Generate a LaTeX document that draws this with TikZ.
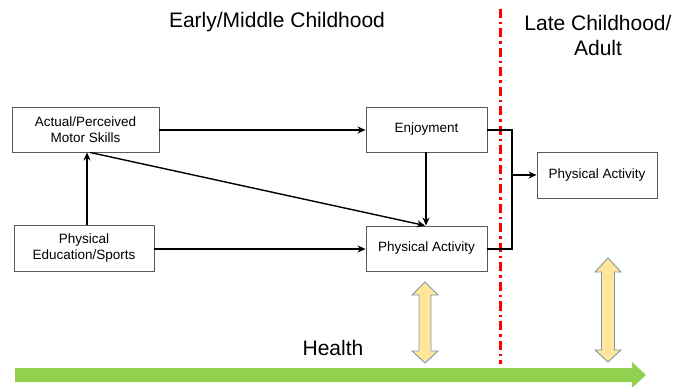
\documentclass[tikz,border=0pt]{standalone}
\usepackage{fontspec}
\setmainfont{Liberation Sans}
\usetikzlibrary{arrows.meta}
\definecolor{boxline}{HTML}{595959}
\definecolor{yfill}{HTML}{FFE699}
\definecolor{yline}{HTML}{8497B0}
\definecolor{gfill}{HTML}{92D050}
\tikzset{
  box/.style={draw=boxline, line width=0.9pt, fill=white, inner sep=0pt, align=center,
    font=\fontsize{13.5}{15.5}\selectfont},
  conn/.style={line width=1.7pt, -{Stealth[length=8pt,width=7pt]}},
  plain/.style={line width=1.7pt},
  title/.style={font=\fontsize{21}{25}\selectfont, align=center},
  dbl/.style={fill=yfill, draw=yline, line width=0.9pt, line join=miter}
}
\begin{document}
\begin{tikzpicture}[x=1pt,y=-1pt]
\useasboundingbox (0,0) rectangle (677,387);
% boxes
\node[box, minimum width=147pt, minimum height=45pt] (ms) at (85.5,129.5) {Actual/Perceived\\Motor Skills};
\node[box, minimum width=140pt, minimum height=46pt] (pe) at (84,248) {Physical\\Education/Sports};
\node[box, minimum width=121pt, minimum height=45pt] (en) at (426.5,129.5) {Enjoyment};
\node[box, minimum width=121pt, minimum height=45pt] (pa) at (426.5,248.5) {Physical Activity};
\node[box, minimum width=120pt, minimum height=46pt] (pb) at (597,175) {Physical Activity};
% titles
\node[title] (t1) at (277,22) {Early/Middle Childhood};
\node[title] (t2) at (598,35) {Late Childhood/\\Adult};
\node[title] (hl) at (333,348) {Health};
% red divider
\coordinate (rt) at (500,9);
\coordinate (rb) at (500,364);
\draw[red, line width=3pt, dash pattern=on 9pt off 4pt on 2.5pt off 4pt] (rt) -- (rb);
% connectors
\draw[conn] (ms.east |- 0,130) -- (en.west |- 0,130);
\draw[conn] (pe.east |- 0,249) -- (pa.west |- 0,249);
\draw[conn] (pe.north -| 87,0) -- (ms.south -| 87,0);
\draw[conn, line width=1.4pt] (ms.south -| 90,0) -- (pa.north -| 425,0);
\draw[conn] (en.south -| 426,0) -- (pa.north -| 426,0);
\coordinate (j) at (512,175);
\draw[plain] (en.east |- 0,130) -| (j);
\draw[plain] (pa.east |- 0,249) -| (j);
\draw[conn] (j) -- (pb.west);
% green arrow
\fill[gfill] (15,368) -- (632,368) -- (632,362) -- (646,375) -- (632,388) -- (632,382) -- (15,382) -- cycle;
% yellow double arrows
\draw[dbl] (425,282) -- (438,295) -- (431,295) -- (431,351) -- (438,351) -- (425,363) -- (412,351) -- (419,351) -- (419,295) -- (412,295) -- cycle;
\draw[dbl] (608,258) -- (621,272) -- (614.5,272) -- (614.5,350) -- (621,350) -- (608,362) -- (595,350) -- (601.5,350) -- (601.5,272) -- (595,272) -- cycle;
\end{tikzpicture}
\end{document}
